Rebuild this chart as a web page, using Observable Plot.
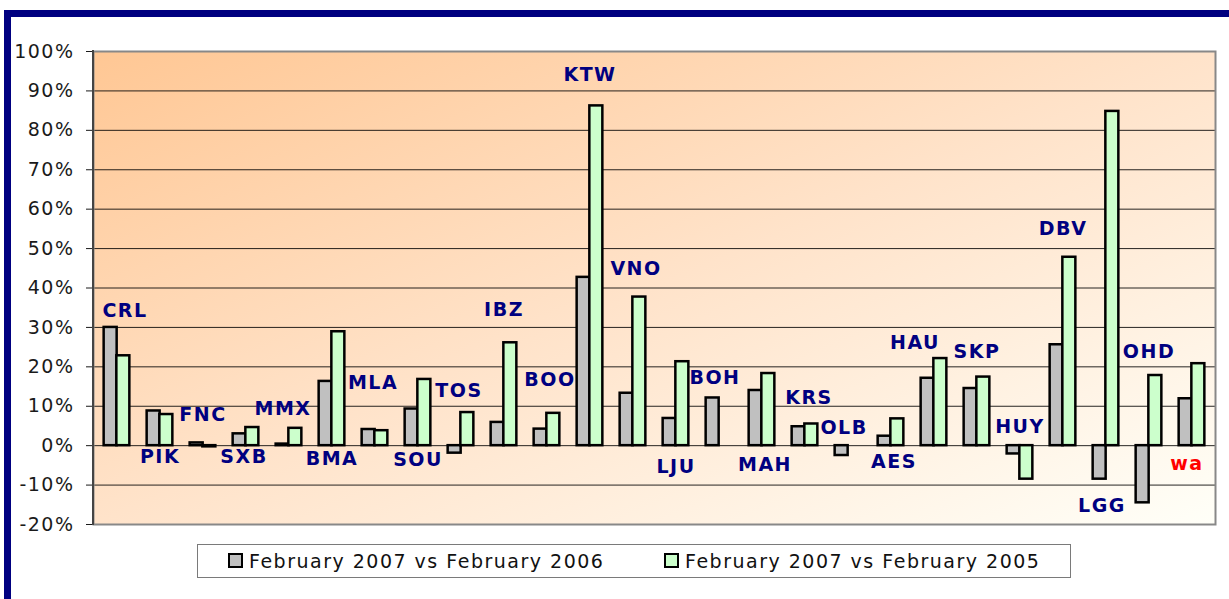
<!DOCTYPE html>
<html>
<head>
<meta charset="utf-8">
<script src="https://cdn.jsdelivr.net/npm/d3@7"></script>
<script src="https://cdn.jsdelivr.net/npm/@observablehq/plot@0.6"></script>
<style>
  html, body { margin: 0; padding: 0; background: #fff; }
  body { width: 1229px; height: 599px; overflow: hidden; position: relative; font-family: "DejaVu Sans", Verdana, sans-serif; }
  #outer { position: absolute; left: 4px; top: 10px; width: 1240px; height: 600px; border-top: 7px solid #000080; border-left: 7px solid #000080; box-sizing: border-box; }
  #chart { position: absolute; left: 0; top: 0; }
  #legend { position: absolute; left: 197px; top: 544px; width: 874px; height: 34px; border: 1.5px solid #7a7a7a; box-sizing: border-box; background: #fff; font-size: 19px; letter-spacing: 1.5px; color: #111; }
  .item { position: absolute; top: 0; height: 31px; display: flex; align-items: center; white-space: nowrap; }
  .sw { width: 11px; height: 11px; border: 2px solid #000; margin-right: 6px; }
</style>
</head>
<body>
<div id="outer"></div>
<div id="chart"></div>
<div id="legend">
  <div class="item" style="left:30px"><div class="sw" style="background:#c0c0c0"></div><span id="s1"></span></div>
  <div class="item" style="left:466px"><div class="sw" style="background:#ccffcc"></div><span id="s2"></span></div>
</div>
<script>
// ---- data ----
const categories = ["CRL","PIK","FNC","SXB","MMX","BMA","MLA","SOU","TOS","IBZ","BOO","KTW","VNO","LJU","BOH","MAH","KRS","OLB","AES","HAU","SKP","HUY","DBV","LGG","OHD","wa"];
const seriesNames = ["February 2007 vs February 2006", "February 2007 vs February 2005"];
// percent values
const vs2006 = [30.0, 8.8, 0.7, 3.0, 0.4, 16.3, 4.1, 9.3, -1.9, 5.9, 4.2, 42.7, 13.3, 6.9, 12.1, 14.0, 4.8, -2.5, 2.4, 17.1, 14.5, -2.1, 25.6, -8.5, -14.5, 11.9];
const vs2005 = [22.8, 7.9, -0.3, 4.6, 4.4, 28.9, 3.8, 16.8, 8.4, 26.1, 8.2, 86.2, 37.7, 21.3, null, 18.3, 5.5, null, 6.8, 22.1, 17.4, -8.5, 47.8, 84.8, 17.8, 20.8];
// label anchor level (percent) for each airport code
const labelLevel = [34.1, -2.9, 7.9, -2.9, 9.2, -3.4, 15.9, -3.6, 14.0, 34.5, 16.7, 94.0, 44.8, -5.3, 17.3, -4.9, 12.2, 4.6, -4.1, 26.0, 23.7, 4.7, 55.0, -15.2, 23.7, -4.7];
const yTicks = [-20, -10, 0, 10, 20, 30, 40, 50, 60, 70, 80, 90, 100];

// ---- build ----
const rows = categories.map((c, i) => ({cat: c, a: vs2006[i], b: vs2005[i], lab: labelLevel[i]}));
document.getElementById("s1").textContent = seriesNames[0];
document.getElementById("s2").textContent = seriesNames[1];

const labelShift = {CRL: 8, MMX: -6, HAU: -19, BOH: -4, OLB: -4, LGG: -4, wa: -5, BOO: 3, VNO: 3, MAH: 3, KRS: 4, AES: 3, SXB: -2, MLA: -2, TOS: -2};

function background(index, scales, values, dim) {
  const ns = "http://www.w3.org/2000/svg";
  const g = document.createElementNS(ns, "g");
  const x = dim.marginLeft, y = dim.marginTop;
  const w = dim.width - dim.marginLeft - dim.marginRight;
  const h = dim.height - dim.marginTop - dim.marginBottom;
  g.innerHTML = `<defs><linearGradient id="bgGrad" x1="0" y1="0" x2="1" y2="1">
    <stop offset="0" stop-color="#ffc794"/><stop offset="0.5" stop-color="#ffe3ca"/><stop offset="1" stop-color="#fffff8"/></linearGradient></defs>
    <rect x="${x}" y="${y}" width="${w}" height="${h}" fill="url(#bgGrad)"/>`;
  return g;
}
function leftLine(index, scales, values, dim) {
  const ns = "http://www.w3.org/2000/svg";
  const l = document.createElementNS(ns, "line");
  l.setAttribute("x1", dim.marginLeft); l.setAttribute("x2", dim.marginLeft);
  l.setAttribute("y1", dim.marginTop - 1); l.setAttribute("y2", dim.height - dim.marginBottom + 1);
  l.setAttribute("stroke", "#444"); l.setAttribute("stroke-width", 2);
  return l;
}

const bw = 12.7;
const labelMarks = categories.map(c => Plot.text(rows.filter(r => r.cat === c), {
  x: "cat", y: "lab", text: "cat", dx: labelShift[c] || 0,
  fill: c === "wa" ? "#ff0000" : "#000080", fontWeight: "bold", fontSize: 19
}));

const chart = Plot.plot({
  width: 1229,
  height: 540,
  marginLeft: 93,
  marginRight: 14,
  marginTop: 51,
  marginBottom: 16,
  style: {fontFamily: "DejaVu Sans, Verdana, sans-serif", fontSize: "19px", color: "#1a1a1a", background: "transparent", letterSpacing: "1.5px"},
  x: {domain: categories, axis: null, paddingInner: 0.706, paddingOuter: 0.353},
  y: {domain: [-20, 100], ticks: yTicks, tickFormat: d => d + "%", tickSize: 7, tickPadding: 12, label: null},
  marks: [
    background,
    Plot.ruleY(yTicks.filter(t => t > -20 && t < 100), {stroke: "#000", strokeOpacity: 0.85, strokeWidth: 1}),
    Plot.frame({stroke: "#888", strokeWidth: 2}),
    leftLine,
    Plot.barY(rows.filter(r => r.a != null), {x: "cat", y: "a", dx: -bw / 2, fill: "#c0c0c0", stroke: "#000", strokeWidth: 2.5}),
    Plot.barY(rows.filter(r => r.b != null), {x: "cat", y: "b", dx: bw / 2, fill: "#ccffcc", stroke: "#000", strokeWidth: 2.5}),
    ...labelMarks
  ]
});
document.getElementById("chart").appendChild(chart);
</script>
</body>
</html>
